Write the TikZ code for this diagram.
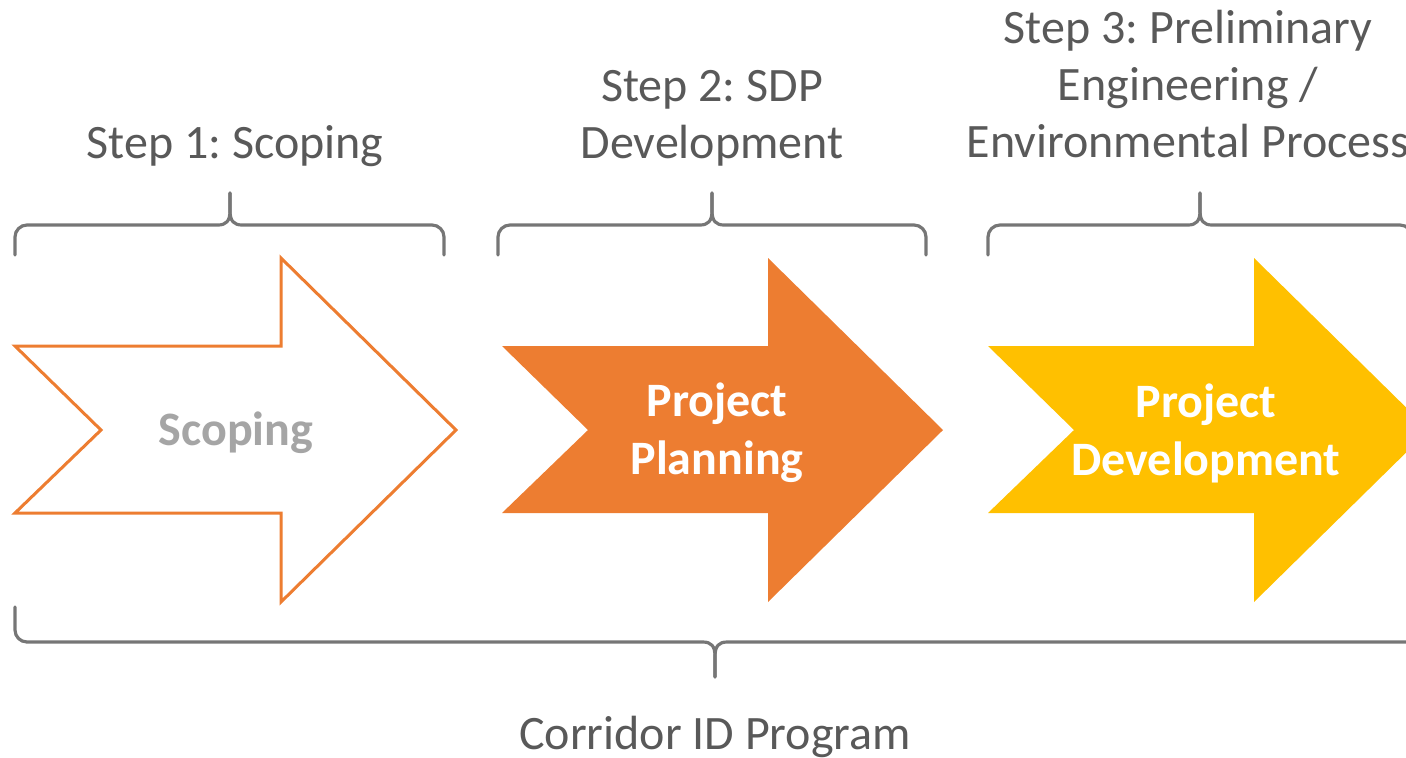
\documentclass[tikz,border=0pt]{standalone}
\usepackage{fontspec}
\setmainfont{Carlito}
\frenchspacing
\usetikzlibrary{positioning}
\definecolor{planorange}{HTML}{ED7D31}
\definecolor{devgold}{HTML}{FFC000}
\definecolor{labelgray}{HTML}{595959}
\definecolor{bracegray}{HTML}{767676}
\definecolor{scopegray}{HTML}{A5A5A5}
\tikzset{
	brace/.style={draw=bracegray, line width=1.6pt, line cap=round, line join=round}, % the curly brackets
	steplabel/.style={text=labelgray, align=center, font=\fontsize{24}{28.5}\selectfont}, % text above and below
	arrowlabel/.style={align=center, font=\fontsize{24}{29}\selectfont\bfseries}, % text inside the arrows
	hollowarrow/.style={draw=planorange, line width=1.5pt, line join=miter, fill=white},
	solidarrow/.style={fill=#1},
}
% block arrow with notched tail, #1 = left x, #2 = style
\newcommand{\blockarrow}[2]{
	\path[#2] (#1,346) -- (#1+266,346) -- (#1+266,258) -- (#1+441,430) -- (#1+266,602)
		-- (#1+266,513) -- (#1,513) -- (#1+86,430) -- cycle;
}
% bracket opening downwards, #1 = left x, #2 = middle x, #3 = right x
\newcommand{\capbrace}[3]{
	\draw[brace] (#1,255) -- (#1,237) to[out=90,in=180] (#1+12,225) -- (#2-12,225)
		.. controls (#2-4,225) and (#2,221) .. (#2,211) -- (#2,193);
	\draw[brace] (#2,193) -- (#2,211) .. controls (#2,221) and (#2+4,225) .. (#2+12,225)
		-- (#3-12,225) to[out=0,in=90] (#3,237) -- (#3,255);
}

\begin{document}
\begin{tikzpicture}[x=0.5pt, y=-0.5pt]
	\useasboundingbox (0,0) rectangle (1406,757);
	\clip (0,0) rectangle (1406,757);

	% the three stages
	\blockarrow{15}{hollowarrow}
	\blockarrow{502}{solidarrow=planorange}
	\blockarrow{988}{solidarrow=devgold}

	\node[arrowlabel, text=scopegray] (scoping) at (236,433) {Scoping};
	\node[arrowlabel, text=white] (planning) at (717,433) {Project\\Planning};
	\node[arrowlabel, text=white] (development) at (1206,433) {Project\\Development};

	% brackets over each stage
	\capbrace{15}{230}{444}
	\capbrace{498}{712}{926}
	\capbrace{988}{1200}{1412}

	\node[steplabel] (step1) at (235,146) {Step 1: Scoping};
	\node[steplabel] (step2) at (712,118) {Step 2: SDP\\Development};
	\node[steplabel] (step3) at (1188,84) {Step 3: Preliminary\\Engineering /\\Environmental Process};

	% bracket under the whole program
	\draw[brace] (15,607) -- (15,630) to[out=-90,in=180] (27,642) -- (703,642)
		.. controls (711,642) and (715,646) .. (715,656) -- (715,677);
	\draw[brace] (715,677) -- (715,656) .. controls (715,646) and (719,642) .. (727,642)
		-- (1415,642);

	\node[steplabel] (program) at (715,737) {Corridor ID Program};
\end{tikzpicture}
\end{document}
